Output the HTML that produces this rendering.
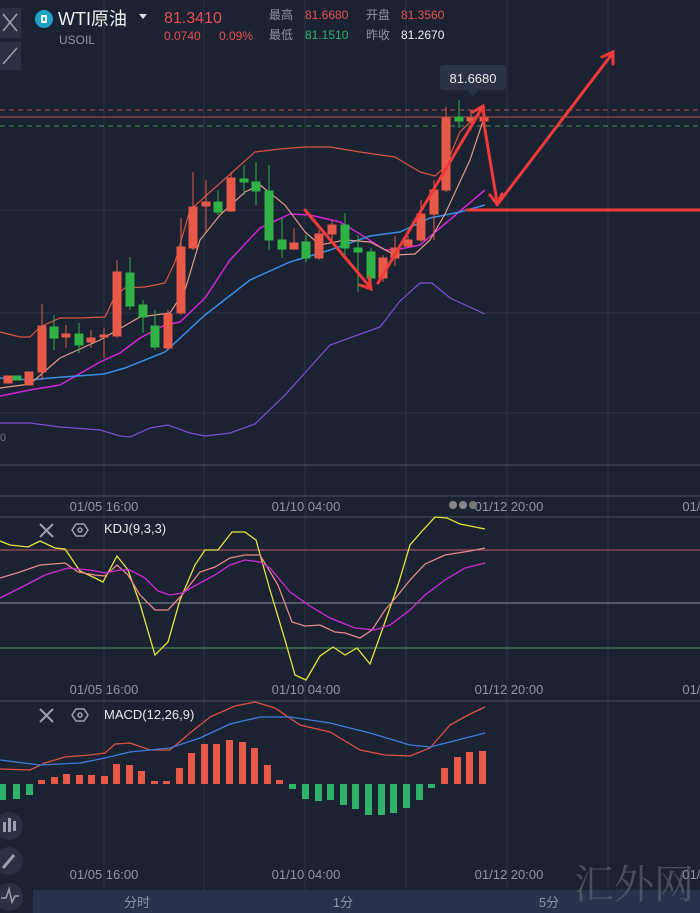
<!DOCTYPE html>
<html><head><meta charset="utf-8"><style>
html,body{margin:0;padding:0;background:#1b2232;}
body{width:700px;height:913px;overflow:hidden;position:relative;font-family:"Liberation Sans","Noto Sans CJK SC",sans-serif;}
svg{position:absolute;left:0;top:0;}
</style></head><body>
<svg width="700" height="913" viewBox="0 0 700 913" font-family="Liberation Sans, Noto Sans CJK SC, sans-serif">
<rect width="700" height="913" fill="#1b2232"/>
<!-- grid -->
<g stroke="#2c3447" stroke-width="1">
<line x1="104" y1="0" x2="104" y2="890"/><line x1="204" y1="0" x2="204" y2="890"/><line x1="305" y1="0" x2="305" y2="890"/><line x1="406" y1="0" x2="406" y2="890"/><line x1="507" y1="0" x2="507" y2="890"/><line x1="608" y1="0" x2="608" y2="890"/>
<line x1="0" y1="210" x2="700" y2="210"/><line x1="0" y1="313" x2="700" y2="313"/><line x1="0" y1="413" x2="700" y2="413"/>
</g>
<g stroke="#4a5263" stroke-width="1">
<line x1="0" y1="465" x2="700" y2="465"/><line x1="0" y1="496" x2="700" y2="496"/><line x1="0" y1="517" x2="700" y2="517"/><line x1="0" y1="701" x2="700" y2="701"/>
</g>
<!-- price lines -->
<line x1="0" y1="110" x2="700" y2="110" stroke="#b55050" stroke-dasharray="5,4"/>
<line x1="0" y1="117" x2="700" y2="117" stroke="#b55050"/>
<line x1="0" y1="126" x2="700" y2="126" stroke="#3f9a55" stroke-dasharray="5,4"/>
<!-- tooltip -->
<rect x="440" y="65" width="66" height="25" rx="3" fill="#2b3446"/>
<polygon points="467,90 473,96 479,90" fill="#2b3446"/>
<text x="473" y="83" fill="#e8e8e8" font-size="13" text-anchor="middle">81.6680</text>
<!-- bollinger & MAs -->
<g fill="none" stroke-width="1.2">
<polyline stroke="#d9563f" points="0,332 20,337 30,337 40,327 60,318 80,318 105,317 115,296 125,288 145,287 165,283 175,262 190,210 255,152 280,149 305,147 330,147 360,152 395,157 420,172 435,176 445,167 460,132 485,107"/>
<polyline stroke="#7e4fd6" points="0,423 30,423 60,427 100,430 120,436 130,437 150,428 168,425 190,433 205,436 230,433 255,424 285,395 330,345 355,336 380,327 400,301 420,283 432,283 450,298 485,314"/>
<polyline stroke="#d126d6" stroke-width="1.5" points="0,396 30,390 60,385 100,362 120,353 140,338 165,325 180,322 205,298 230,260 260,228 290,214 310,215 340,222 360,234 385,250 400,249 420,245 440,228 485,190"/>
<polyline stroke="#3b8ee8" stroke-width="1.5" points="0,378 30,380 50,378 104,374 125,368 165,352 205,315 250,280 290,262 330,250 370,236 400,232 430,218 460,212 485,205"/>
<polyline stroke="#e49a82" points="0,388 30,384 60,358 100,340 140,317 170,313 185,290 200,240 220,215 245,192 260,185 285,205 305,232 320,245 345,240 370,242 395,255 415,254 430,240 445,214 470,160 485,115"/>
</g>
<!-- candles -->
<g id="c">
<g stroke="#e85a47" fill="#e85a47">
<line x1="42" y1="304" x2="42" y2="380"/><rect x="38" y="326" width="8" height="46"/>
<rect x="4" y="376" width="8" height="7"/><rect x="25" y="372" width="8" height="13"/>
<line x1="66" y1="325" x2="66" y2="348"/><rect x="62" y="334" width="8" height="3"/>
<line x1="91" y1="330" x2="91" y2="348"/><rect x="87" y="338" width="8" height="4"/>
<line x1="104" y1="328" x2="104" y2="358"/><rect x="100" y="335" width="8" height="2"/>
<line x1="117" y1="260" x2="117" y2="338"/><rect x="113" y="272" width="8" height="64"/>
<line x1="168" y1="310" x2="168" y2="350"/><rect x="164" y="314" width="8" height="34"/>
<line x1="181" y1="218" x2="181" y2="315"/><rect x="177" y="247" width="8" height="66"/>
<line x1="193" y1="172" x2="193" y2="250"/><rect x="189" y="207" width="8" height="41"/>
<line x1="206" y1="180" x2="206" y2="232"/><rect x="202" y="202" width="8" height="4"/>
<line x1="231" y1="172" x2="231" y2="212"/><rect x="227" y="178" width="8" height="33"/>
<line x1="294" y1="228" x2="294" y2="250"/><rect x="290" y="243" width="8" height="6"/>
<line x1="319" y1="230" x2="319" y2="260"/><rect x="315" y="234" width="8" height="24"/>
<line x1="332" y1="220" x2="332" y2="244"/><rect x="328" y="225" width="8" height="9"/>
<line x1="383" y1="255" x2="383" y2="282"/><rect x="379" y="258" width="8" height="20"/>
<line x1="395" y1="236" x2="395" y2="266"/><rect x="391" y="248" width="8" height="10"/>
<line x1="408" y1="236" x2="408" y2="248"/><rect x="404" y="240" width="8" height="6"/>
<line x1="421" y1="200" x2="421" y2="242"/><rect x="417" y="214" width="8" height="26"/>
<line x1="434" y1="180" x2="434" y2="240"/><rect x="430" y="190" width="8" height="24"/>
<line x1="446" y1="107" x2="446" y2="192"/><rect x="442" y="118" width="8" height="72"/>
<line x1="471" y1="110" x2="471" y2="130"/><rect x="467" y="118" width="8" height="3"/>
<line x1="484" y1="110" x2="484" y2="130"/><rect x="480" y="118" width="8" height="3"/>
</g>
<g stroke="#2fb344" fill="#2fb344">
<rect x="13" y="376" width="8" height="4"/>
<line x1="54" y1="315" x2="54" y2="350"/><rect x="50" y="327" width="8" height="11"/>
<line x1="79" y1="323" x2="79" y2="353"/><rect x="75" y="334" width="8" height="11"/>
<line x1="130" y1="257" x2="130" y2="310"/><rect x="126" y="273" width="8" height="33"/>
<line x1="143" y1="300" x2="143" y2="333"/><rect x="139" y="305" width="8" height="12"/>
<line x1="155" y1="310" x2="155" y2="350"/><rect x="151" y="326" width="8" height="21"/>
<line x1="218" y1="190" x2="218" y2="215"/><rect x="214" y="202" width="8" height="10"/>
<line x1="244" y1="165" x2="244" y2="195"/><rect x="240" y="179" width="8" height="3"/>
<line x1="256" y1="162" x2="256" y2="205"/><rect x="252" y="182" width="8" height="9"/>
<line x1="269" y1="165" x2="269" y2="250"/><rect x="265" y="191" width="8" height="49"/>
<line x1="282" y1="218" x2="282" y2="258"/><rect x="278" y="240" width="8" height="9"/>
<line x1="306" y1="235" x2="306" y2="262"/><rect x="302" y="242" width="8" height="16"/>
<line x1="345" y1="213" x2="345" y2="255"/><rect x="341" y="225" width="8" height="23"/>
<line x1="358" y1="235" x2="358" y2="292"/><rect x="354" y="248" width="8" height="4"/>
<line x1="371" y1="248" x2="371" y2="290"/><rect x="367" y="252" width="8" height="26"/>
<line x1="459" y1="100" x2="459" y2="128"/><rect x="455" y="117" width="8" height="4"/>
</g>
</g>
<!-- red arrows -->
<g stroke="#f03a3a" stroke-width="3" fill="none" stroke-linecap="round">
<line x1="305" y1="210" x2="370" y2="287"/><polyline points="360,285 371,289 369,277"/>
<line x1="378" y1="283" x2="482" y2="108"/><polyline points="473,112 483,106 484,117"/>
<line x1="483" y1="118" x2="497" y2="202"/><polyline points="490,195 497,204 502,194"/>
<line x1="497" y1="205" x2="612" y2="54"/><polyline points="602,57 613,52 613,64"/>
<line x1="467" y1="210" x2="700" y2="210"/>
</g>
<text x="0" y="441" fill="#6b7385" font-size="11">0</text>
<!-- date labels -->
<g fill="#8d95a6" font-size="13" text-anchor="middle">
<text x="104" y="511">01/05 16:00</text><text x="306" y="511">01/10 04:00</text><text x="509" y="511">01/12 20:00</text><text x="695" y="511">01/1</text>
<text x="104" y="694">01/05 16:00</text><text x="306" y="694">01/10 04:00</text><text x="509" y="694">01/12 20:00</text><text x="695" y="694">01/1</text>
<text x="104" y="879">01/05 16:00</text><text x="306" y="879">01/10 04:00</text><text x="509" y="879">01/12 20:00</text><text x="695" y="879">01/1</text>
</g>
<circle cx="453" cy="505" r="4" fill="#888"/><circle cx="463" cy="505" r="4" fill="#888"/><circle cx="473" cy="505" r="4" fill="#777"/>
<!-- KDJ -->
<line x1="0" y1="550" x2="700" y2="550" stroke="#c0586a"/>
<line x1="0" y1="603" x2="700" y2="603" stroke="#8a909c"/>
<line x1="0" y1="648" x2="700" y2="648" stroke="#4f9a5e"/>
<g fill="none" stroke-width="1.3">
<polyline stroke="#e7e33a" points="0,541 10,545 28,547 40,541 55,548 65,549 80,571 95,578 103,582 117,556 128,570 140,604 155,655 168,642 180,600 195,565 205,550 218,550 232,532 245,532 256,540 270,590 285,640 295,675 306,680 320,656 333,647 345,655 357,648 370,664 385,622 398,585 410,545 423,530 435,517 447,518 460,524 485,529"/>
<polyline stroke="#e58a86" points="0,578 20,572 40,565 65,563 78,572 95,575 105,576 117,565 128,575 140,595 155,610 168,610 182,595 200,572 215,567 230,558 245,555 260,555 278,585 292,622 305,626 320,625 335,632 345,633 360,638 372,630 385,610 398,595 410,580 425,564 445,555 470,551 485,548"/>
<polyline stroke="#d02ad8" points="0,598 20,588 45,575 68,568 90,570 105,573 120,570 130,570 145,578 158,591 170,595 182,593 200,583 215,575 230,565 245,560 260,562 270,568 290,592 310,606 330,618 355,628 375,630 390,625 410,610 425,595 445,580 465,568 485,563"/>
</g>
<g stroke="#9aa0ad" stroke-width="2"><line x1="40" y1="524" x2="53" y2="537"/><line x1="53" y1="524" x2="40" y2="537"/><line x1="40" y1="709" x2="53" y2="722"/><line x1="53" y1="709" x2="40" y2="722"/></g>
<g stroke="#9aa0ad" stroke-width="1.5" fill="none"><polygon points="72,530 76,524 84,524 88,530 84,536 76,536"/><circle cx="80" cy="530" r="2"/><polygon points="72,715 76,709 84,709 88,715 84,721 76,721"/><circle cx="80" cy="715" r="2"/></g>
<text x="104" y="533" fill="#e8e8e8" font-size="13">KDJ(9,3,3)</text>
<text x="104" y="719" fill="#e8e8e8" font-size="13">MACD(12,26,9)</text>
<!-- MACD bars -->
<g fill="#2fb36a">
<rect x="0" y="784" width="6" height="16"/><rect x="13" y="784" width="7" height="15"/><rect x="26" y="784" width="7" height="11"/>
<rect x="289" y="784" width="7" height="5"/><rect x="302" y="784" width="7" height="15"/><rect x="315" y="784" width="7" height="17"/><rect x="327" y="784" width="7" height="16"/><rect x="340" y="784" width="7" height="21"/><rect x="352" y="784" width="7" height="25"/><rect x="365" y="784" width="7" height="31"/><rect x="378" y="784" width="7" height="31"/><rect x="390" y="784" width="7" height="29"/><rect x="403" y="784" width="7" height="24"/><rect x="416" y="784" width="7" height="16"/><rect x="428" y="784" width="7" height="4"/>
</g>
<g fill="#e85a47">
<rect x="38" y="780" width="7" height="4"/><rect x="51" y="777" width="7" height="7"/><rect x="63" y="774" width="7" height="10"/><rect x="76" y="775" width="7" height="9"/><rect x="88" y="775" width="7" height="9"/><rect x="101" y="776" width="7" height="8"/><rect x="113" y="764" width="7" height="20"/><rect x="126" y="765" width="7" height="19"/><rect x="138" y="771" width="7" height="13"/><rect x="151" y="781" width="7" height="3"/><rect x="163" y="781" width="7" height="3"/><rect x="176" y="768" width="7" height="16"/><rect x="188" y="753" width="7" height="31"/><rect x="201" y="744" width="7" height="40"/><rect x="213" y="744" width="7" height="40"/><rect x="226" y="740" width="7" height="44"/><rect x="239" y="742" width="7" height="42"/><rect x="251" y="748" width="7" height="36"/><rect x="264" y="765" width="7" height="19"/><rect x="276" y="780" width="7" height="4"/>
<rect x="441" y="768" width="7" height="16"/><rect x="454" y="757" width="7" height="27"/><rect x="466" y="752" width="7" height="32"/><rect x="479" y="751" width="7" height="33"/>
</g>
<g fill="none" stroke-width="1.3">
<polyline stroke="#e0503f" points="0,769 30,770 45,763 65,757 90,755 105,753 115,744 130,743 150,750 170,750 190,733 210,717 235,706 255,702 275,708 300,725 330,732 360,750 385,755 410,756 430,748 450,725 470,714 485,707"/>
<polyline stroke="#3e7be0" points="0,760 40,765 80,763 105,758 130,752 170,748 200,738 230,724 260,717 290,717 330,723 370,733 410,745 430,747 450,742 485,733"/>
</g>
<!-- left toolbar -->
<rect x="0" y="8" width="21" height="30" fill="#2a3142"/>
<g stroke="#9aa0ad" stroke-width="1.6"><line x1="3" y1="14" x2="17" y2="31"/><line x1="17" y1="14" x2="3" y2="31"/></g>
<rect x="0" y="42" width="21" height="28" fill="#2a3142"/>
<g stroke="#9aa0ad" stroke-width="1.5"><line x1="3" y1="64" x2="17" y2="48"/></g>
<circle cx="9" cy="826" r="14" fill="#2a3142"/><circle cx="9" cy="861" r="14" fill="#2a3142"/><circle cx="9" cy="897" r="14" fill="#2a3142"/>
<g fill="#9aa0ad"><rect x="3" y="822" width="3" height="10"/><rect x="8" y="818" width="3" height="14"/><rect x="13" y="821" width="3" height="10"/></g>
<line x1="3" y1="868" x2="14" y2="855" stroke="#9aa0ad" stroke-width="3"/>
<polyline points="1,898 6,898 9,889 12,902 15,896 19,896" fill="none" stroke="#9aa0ad" stroke-width="1.5"/>
<!-- bottom tabs -->
<rect x="33" y="890" width="667" height="23" fill="#28324a"/>
<g fill="#8d95a6" font-size="13" text-anchor="middle"><text x="137" y="907">分时</text><text x="343" y="907">1分</text><text x="549" y="907">5分</text></g>
<text x="574" y="898" fill="#6c7280" fill-opacity="0.55" font-size="40" font-family="Noto Serif CJK SC, serif">汇外网</text>
<!-- header -->
<circle cx="44" cy="19" r="9" fill="#1ea2c8"/><rect x="41" y="15" width="6" height="8" rx="1" fill="#fff"/><rect x="43" y="17" width="2" height="4" fill="#1ea2c8"/>
<text x="58" y="25" fill="#f0f0f0" font-size="18">WTI原油</text>
<polygon points="139,14 147,14 143,19" fill="#ddd"/>
<text x="59" y="44" fill="#8d95a6" font-size="12">USOIL</text>
<text x="164" y="23" fill="#e85050" font-size="16">81.3410</text>
<text x="164" y="40" fill="#e85050" font-size="12">0.0740</text>
<text x="219" y="40" fill="#e85050" font-size="12">0.09%</text>
<text x="269" y="19" fill="#8d95a6" font-size="12">最高</text><text x="305" y="19" fill="#e85050" font-size="12">81.6680</text>
<text x="366" y="19" fill="#8d95a6" font-size="12">开盘</text><text x="401" y="19" fill="#e85050" font-size="12">81.3560</text>
<text x="269" y="39" fill="#8d95a6" font-size="12">最低</text><text x="305" y="39" fill="#2fb36a" font-size="12">81.1510</text>
<text x="366" y="39" fill="#8d95a6" font-size="12">昨收</text><text x="401" y="39" fill="#f0f0f0" font-size="12">81.2670</text>
</svg>
</body></html>
